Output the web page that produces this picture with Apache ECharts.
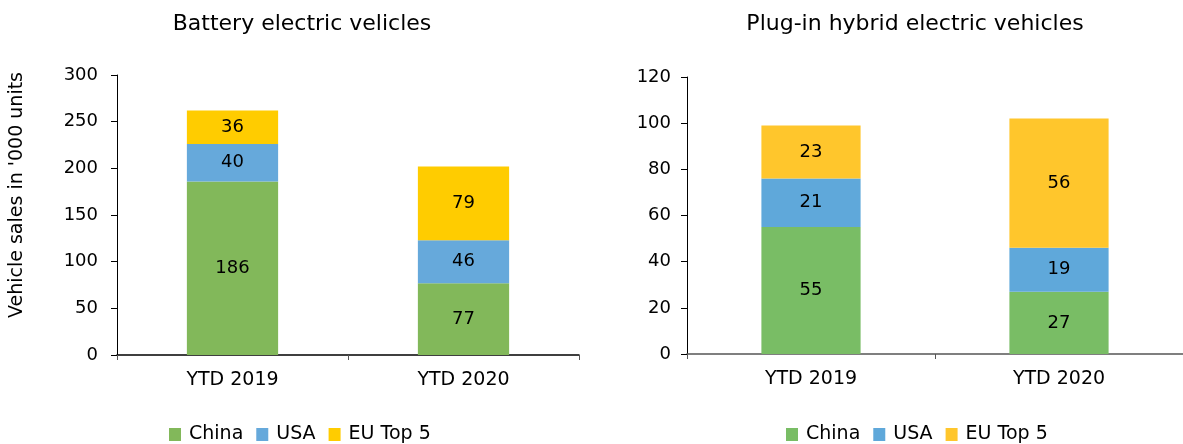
<!DOCTYPE html>
<html>
<head>
<meta charset="utf-8">
<script src="https://cdn.jsdelivr.net/npm/echarts@6/dist/echarts.min.js"></script>
<style>html,body{margin:0;padding:0;background:#fff}#c{width:1183px;height:444px}</style>
</head>
<body>
<div id="c"></div>
<script>
const categories = ['YTD 2019', 'YTD 2020'];
const seriesNames = ['China', 'USA', 'EU Top 5'];
const bevChina = [186, 77];
const bevUSA = [40, 46];
const bevEU = [36, 79];
const phevChina = [55, 27];
const phevUSA = [21, 19];
const phevEU = [23, 56];
const titles = ['Battery electric velicles', 'Plug-in hybrid electric vehicles'];
const yAxisName = "Vehicle sales in '000 units";

const FONT = 'DejaVu Sans';
const FS = 18;
const colorsL = ['#82B85A', '#66A9DB', '#FFCC00'];
const colorsR = ['#79BD65', '#5FA8DA', '#FFC62C'];

function mkSeries(name, data, idx, color) {
  return {
    name: name, type: 'bar', stack: 's' + idx, xAxisIndex: idx, yAxisIndex: idx,
    data: data, barWidth: idx === 0 ? '39.5%' : '40%',
    itemStyle: { color: color },
    label: { show: true, position: 'inside', color: '#000', fontSize: FS, fontFamily: FONT },
    emphasis: { disabled: true }
  };
}

const axisLabel = { color: '#000', fontSize: FS, fontFamily: FONT };
const legendText = { fontSize: 19, color: '#000', fontFamily: FONT, padding: [0, 0, 0, 3] };

const option = {
  animation: false,
  title: [
    { text: titles[0], left: 297, top: 8, textAlign: 'center', textStyle: { fontSize: 22, fontWeight: 'normal', color: '#000', fontFamily: FONT } },
    { text: titles[1], left: 910, top: 8, textAlign: 'center', textStyle: { fontSize: 22, fontWeight: 'normal', color: '#000', fontFamily: FONT } }
  ],
  legend: [
    { left: 164, top: 420, itemWidth: 12, itemHeight: 13, itemGap: 13, icon: 'rect',
      data: seriesNames.map((n, i) => ({ name: n, itemStyle: { color: colorsL[i] } })),
      textStyle: legendText },
    { left: 781, top: 420, itemWidth: 12, itemHeight: 13, itemGap: 13, icon: 'rect',
      data: seriesNames.map((n, i) => ({ name: n, itemStyle: { color: colorsR[i] } })),
      textStyle: legendText }
  ],
  grid: [
    { left: 117, right: 604, top: 75, bottom: 89 },
    { left: 687, right: 0, top: 77, bottom: 90 }
  ],
  xAxis: [0, 1].map(i => ({
    type: 'category', gridIndex: i, data: categories,
    axisLine: { lineStyle: { color: i === 0 ? '#000' : '#555', width: 1.5 } },
    axisTick: { show: true, length: 5, lineStyle: { color: '#555' } },
    axisLabel: Object.assign({ margin: 16 }, axisLabel, { fontSize: 19 })
  })),
  yAxis: [
    { type: 'value', gridIndex: 0, min: 0, max: 300, interval: 50,
      name: yAxisName, nameLocation: 'middle', nameGap: 90, nameRotate: 90,
      nameTextStyle: { fontSize: 19, color: '#000', fontFamily: FONT, padding: [0, 0, 0, 40] },
      axisLine: { show: true, lineStyle: { color: '#000' } },
      axisTick: { show: true, length: 6, lineStyle: { color: '#000' } },
      splitLine: { show: false }, axisLabel: Object.assign({ margin: 19 }, axisLabel) },
    { type: 'value', gridIndex: 1, min: 0, max: 120, interval: 20,
      axisLine: { show: true, lineStyle: { color: '#000' } },
      axisTick: { show: true, length: 6, lineStyle: { color: '#000' } },
      splitLine: { show: false }, axisLabel: Object.assign({ margin: 16 }, axisLabel) }
  ],
  series: [
    mkSeries(seriesNames[0], bevChina, 0, colorsL[0]),
    mkSeries(seriesNames[1], bevUSA, 0, colorsL[1]),
    mkSeries(seriesNames[2], bevEU, 0, colorsL[2]),
    mkSeries(seriesNames[0], phevChina, 1, colorsR[0]),
    mkSeries(seriesNames[1], phevUSA, 1, colorsR[1]),
    mkSeries(seriesNames[2], phevEU, 1, colorsR[2])
  ]
};
echarts.init(document.getElementById('c')).setOption(option);
</script>
</body>
</html>
